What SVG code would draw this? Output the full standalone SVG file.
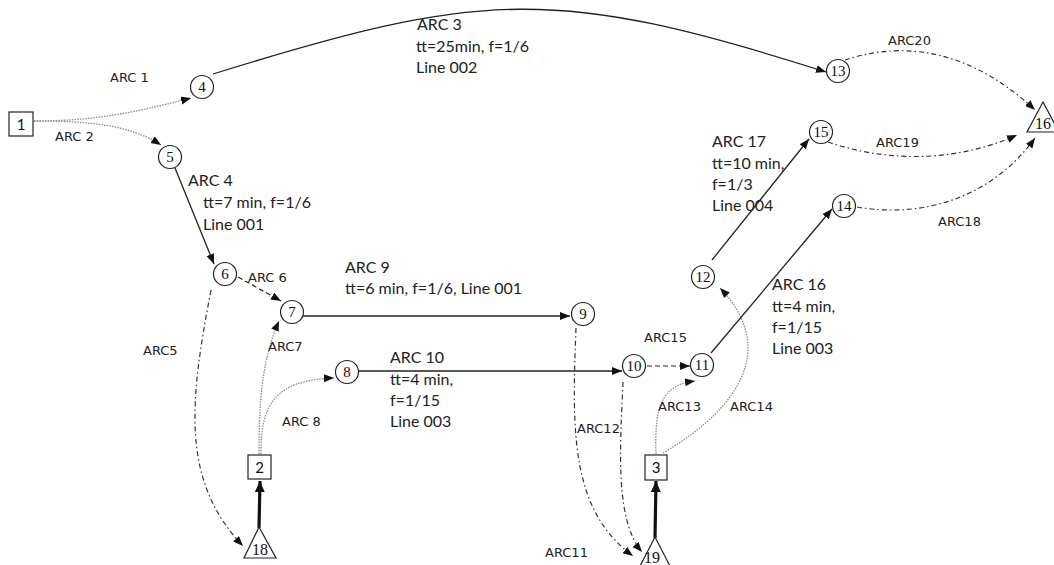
<svg xmlns="http://www.w3.org/2000/svg" width="1054" height="565" viewBox="0 0 1054 565">
<style>
.n{fill:#fff;stroke:#222;stroke-width:1.2}
.nt{font-family:"Liberation Serif",serif;font-size:15px;fill:#111;text-anchor:middle}
.st{font-family:Lato,"Liberation Sans",sans-serif;font-size:15px;fill:#111;text-anchor:middle}
.e{fill:none;stroke:#222;stroke-width:1.3}
.dot{fill:none;stroke:#8a8a8a;stroke-width:1.3;stroke-dasharray:1.5 1.2}
.dd{fill:none;stroke:#333;stroke-width:1.2;stroke-dasharray:5 3 1.5 3}
.da{fill:none;stroke:#222;stroke-width:1.2;stroke-dasharray:5 3}
.thick{fill:none;stroke:#111;stroke-width:3.2}
.lb{font-family:"DejaVu Sans",sans-serif;font-size:13px;fill:#222}
.tx{font-family:Lato,"Liberation Sans",sans-serif;font-size:16px;fill:#222}
</style>
<defs>
<marker id="a" markerUnits="userSpaceOnUse" markerWidth="11" markerHeight="9" refX="10" refY="4" orient="auto"><path d="M0,0 L10,4 L0,8 z" fill="#111"/></marker>
<marker id="at" markerUnits="userSpaceOnUse" markerWidth="12" markerHeight="11" refX="11" refY="5" orient="auto"><path d="M0,0 L11,5 L0,10 z" fill="#111"/></marker>
</defs>
<g id="connectors">
<path class="dot" d="M34,121 C90,121 130,114 191,98" marker-end="url(#a)"/>
<path class="dot" d="M34,121 C90,121 130,125 161,145" marker-end="url(#a)"/>
<path class="e" d="M213,74 C483,-10 556,-14 826,72" marker-end="url(#a)"/>
<path class="e" d="M175,168 L214,264" marker-end="url(#a)"/>
<path class="dd" d="M211,290 C190,400 180,480 243,546" marker-end="url(#a)"/>
<path class="da" d="M238,277 L281,301" marker-end="url(#a)"/>
<path class="dot" d="M259,454 C259,400 262,360 279,321" marker-end="url(#a)"/>
<path class="dot" d="M261,454 C261,410 270,380 334,378" marker-end="url(#a)"/>
<path class="e" d="M303,316 L570,316" marker-end="url(#a)"/>
<path class="e" d="M358,371 L622,371" marker-end="url(#a)"/>
<path class="dd" d="M576,328 C572,430 570,510 633,556" marker-end="url(#a)"/>
<path class="dd" d="M623,382 C620,450 615,520 642,552" marker-end="url(#a)"/>
<path class="dot" d="M656,454 C654,400 665,385 695,381" marker-end="url(#a)"/>
<path class="dot" d="M663,453 C745,405 775,345 720,288" marker-end="url(#a)"/>
<path class="da" d="M647,366 L690,366" marker-end="url(#a)"/>
<path class="e" d="M711,353 L832,209" marker-end="url(#a)"/>
<path class="e" d="M712,260 L809,139" marker-end="url(#a)"/>
<path class="dd" d="M857,207 C920,218 990,200 1035,138" marker-end="url(#a)"/>
<path class="dd" d="M828,142 C880,160 950,165 1017,135" marker-end="url(#a)"/>
<path class="dd" d="M845,60 C890,45 960,40 1035,110" marker-end="url(#a)"/>
<path class="thick" d="M259,528 L260,481" marker-end="url(#at)"/>
<path class="thick" d="M655,538 L656,481" marker-end="url(#at)"/>
</g>
<g id="labels">
<text class="lb" x="110" y="82">ARC 1</text>
<text class="lb" x="55" y="141">ARC 2</text>
<text class="tx" x="417" y="30">ARC 3</text>
<text class="tx" x="416" y="52">tt=25min, f=1/6</text>
<text class="tx" x="416" y="73">Line 002</text>
<text class="tx" x="188" y="186">ARC 4</text>
<text class="tx" x="203" y="208">tt=7 min, f=1/6</text>
<text class="tx" x="203" y="230">Line 001</text>
<text class="lb" x="143" y="355">ARC5</text>
<text class="lb" x="248" y="282">ARC 6</text>
<text class="lb" x="268" y="351">ARC7</text>
<text class="lb" x="282" y="426">ARC 8</text>
<text class="tx" x="345" y="273">ARC 9</text>
<text class="tx" x="345" y="294">tt=6 min, f=1/6, Line 001</text>
<text class="tx" x="390" y="363">ARC 10</text>
<text class="tx" x="390" y="385">tt=4 min,</text>
<text class="tx" x="390" y="406">f=1/15</text>
<text class="tx" x="390" y="427">Line 003</text>
<text class="lb" x="545" y="557">ARC11</text>
<text class="lb" x="577" y="433">ARC12</text>
<text class="lb" x="658" y="411">ARC13</text>
<text class="lb" x="730" y="411">ARC14</text>
<text class="lb" x="644" y="342">ARC15</text>
<text class="tx" x="772" y="290">ARC 16</text>
<text class="tx" x="772" y="312">tt=4 min,</text>
<text class="tx" x="772" y="333">f=1/15</text>
<text class="tx" x="772" y="354">Line 003</text>
<text class="tx" x="712" y="147">ARC 17</text>
<text class="tx" x="712" y="169">tt=10 min,</text>
<text class="tx" x="712" y="190">f=1/3</text>
<text class="tx" x="712" y="211">Line 004</text>
<text class="lb" x="938" y="226">ARC18</text>
<text class="lb" x="876" y="147">ARC19</text>
<text class="lb" x="888" y="45">ARC20</text>
</g>
<g id="node1"><rect class="n" x="9" y="112" width="24" height="24"/><text class="st" x="21" y="129.5">1</text></g>
<g id="node2"><rect class="n" x="248" y="455" width="23" height="24"/><text class="st" x="259.5" y="472.5">2</text></g>
<g id="node3"><rect class="n" x="645" y="455" width="22" height="25"/><text class="st" x="656" y="473">3</text></g>
<g id="node4"><circle class="n" cx="202" cy="87" r="11.5"/><text class="nt" x="202" y="92">4</text></g>
<g id="node5"><circle class="n" cx="170" cy="157" r="11.5"/><text class="nt" x="170" y="162">5</text></g>
<g id="node6"><circle class="n" cx="225" cy="274" r="11.5"/><text class="nt" x="225" y="279">6</text></g>
<g id="node7"><circle class="n" cx="292" cy="312" r="11.5"/><text class="nt" x="292" y="317">7</text></g>
<g id="node8"><circle class="n" cx="347" cy="372" r="11.5"/><text class="nt" x="347" y="377">8</text></g>
<g id="node9"><circle class="n" cx="583" cy="314" r="11.5"/><text class="nt" x="583" y="319">9</text></g>
<g id="node10"><circle class="n" cx="634" cy="366" r="11.5"/><text class="nt" x="634" y="371">10</text></g>
<g id="node11"><circle class="n" cx="702" cy="365" r="11.5"/><text class="nt" x="702" y="370">11</text></g>
<g id="node12"><circle class="n" cx="703" cy="277" r="11.5"/><text class="nt" x="703" y="282">12</text></g>
<g id="node13"><circle class="n" cx="838" cy="71" r="11.5"/><text class="nt" x="838" y="76">13</text></g>
<g id="node14"><circle class="n" cx="844" cy="206" r="11.5"/><text class="nt" x="844" y="211">14</text></g>
<g id="node15"><circle class="n" cx="821" cy="132" r="11.5"/><text class="nt" x="821" y="137">15</text></g>
<g id="node16"><polygon class="n" points="1043,102 1027,132 1059,132"/><text class="nt" x="1043" y="129" style="font-size:16px">16</text></g>
<g id="node18"><polygon class="n" points="259,527 244,558 276,558"/><text class="nt" x="260" y="555" style="font-size:16px">18</text></g>
<g id="node19"><polygon class="n" points="655,537 638,570 672,570"/><text class="nt" x="652" y="563" style="font-size:16px">19</text></g>
</svg>
